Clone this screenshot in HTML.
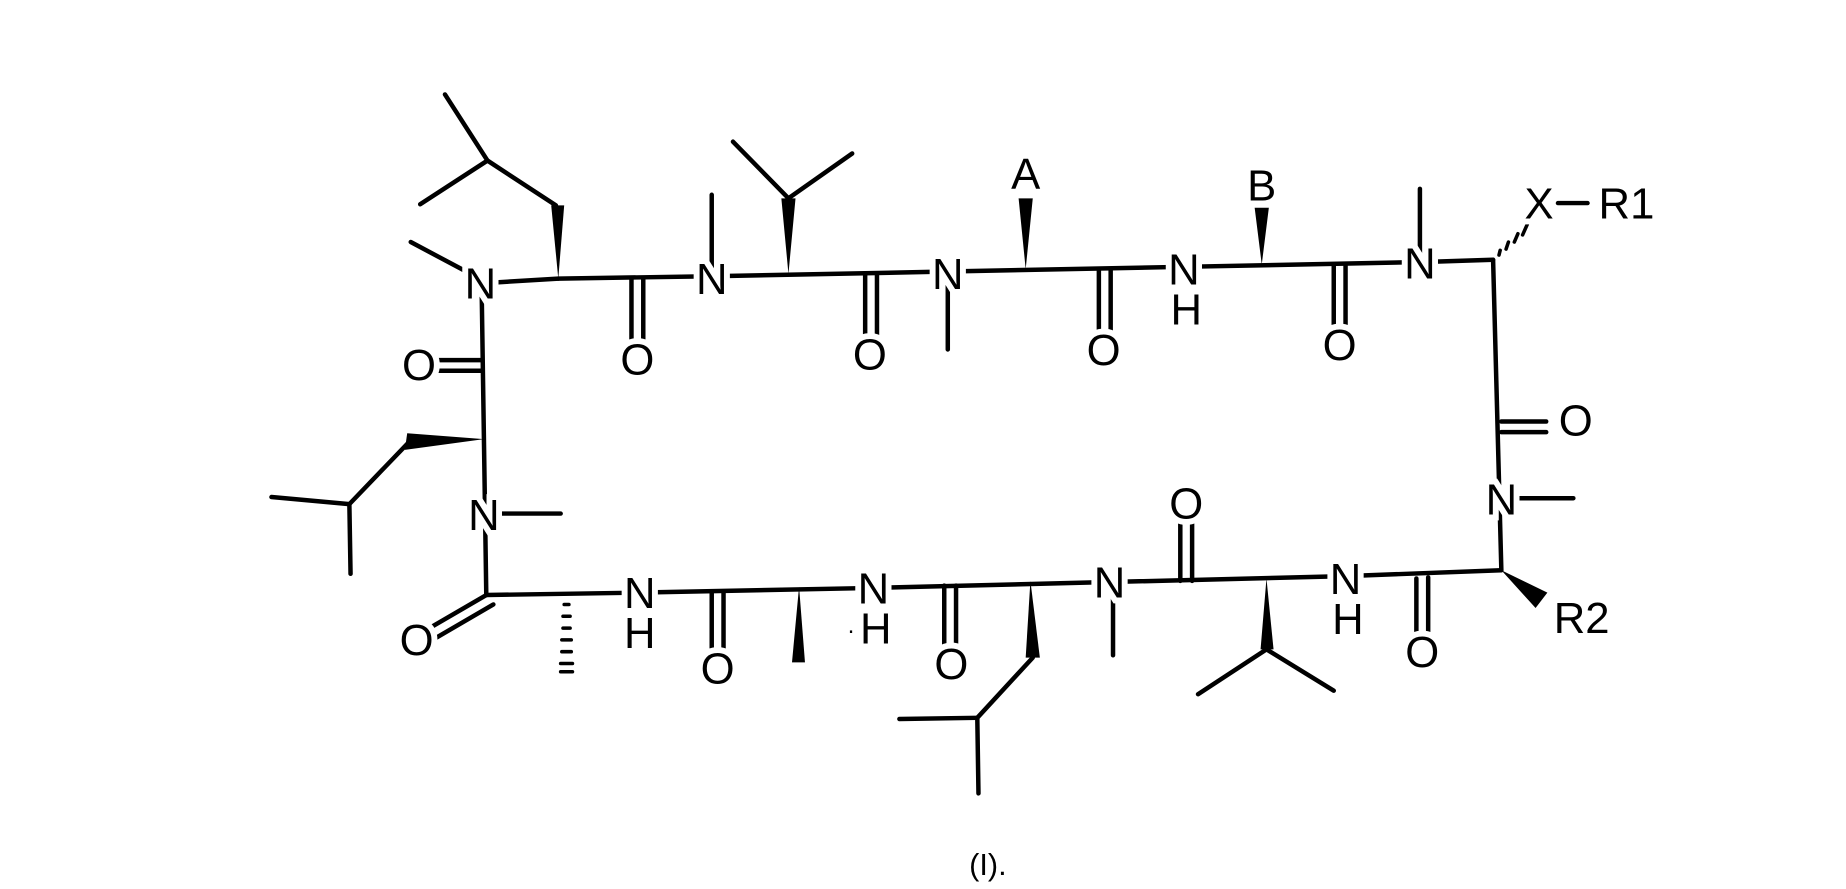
<!DOCTYPE html>
<html><head><meta charset="utf-8"><style>
html,body{margin:0;padding:0;background:#fff;}
svg{display:block}
text{font-family:"Liberation Sans",sans-serif;font-size:37px;fill:#000;text-anchor:middle;stroke:#fff;stroke-width:10px;paint-order:stroke;}
</style></head><body>
<svg width="1846" height="889" viewBox="0 0 1564 753" preserveAspectRatio="none" xmlns="http://www.w3.org/2000/svg">
<g stroke="#000" stroke-width="3.8" fill="none" stroke-linecap="round">
<line x1="348" y1="205" x2="395" y2="230"/>
<line x1="407" y1="240" x2="473" y2="236"/>
<line x1="413" y1="136" x2="377" y2="80"/>
<line x1="413" y1="136" x2="356" y2="173"/>
<line x1="413" y1="136" x2="471" y2="174"/>
<line x1="473" y1="236" x2="603" y2="234"/>
<line x1="535" y1="236" x2="535" y2="290"/><line x1="545" y1="236" x2="545" y2="290"/>
<line x1="603" y1="165" x2="603" y2="234"/>
<line x1="603" y1="234" x2="803" y2="230"/>
<line x1="668" y1="168" x2="621" y2="120"/>
<line x1="668" y1="168" x2="722" y2="130"/>
<line x1="733" y1="232" x2="733" y2="290"/><line x1="743" y1="232" x2="743" y2="290"/>
<line x1="803" y1="230" x2="803" y2="296"/>
<line x1="803" y1="230" x2="1003" y2="226"/>
<line x1="931" y1="228" x2="931" y2="286"/><line x1="941" y1="228" x2="941" y2="286"/>
<line x1="1003" y1="226" x2="1203" y2="222"/>
<line x1="1130" y1="224" x2="1130" y2="282"/><line x1="1140" y1="224" x2="1140" y2="282"/>
<line x1="1203" y1="160" x2="1203" y2="222"/>
<line x1="1203" y1="222" x2="1265" y2="220"/>
<line x1="1320" y1="172" x2="1345" y2="172"/>
<line x1="1265" y1="220" x2="1272" y2="483"/>
<line x1="1272" y1="357" x2="1310" y2="357"/><line x1="1272" y1="366" x2="1310" y2="366"/>
<line x1="1272" y1="422" x2="1333" y2="422"/>
<line x1="1272" y1="483" x2="1140" y2="488"/>
<line x1="1200" y1="490" x2="1200" y2="545"/><line x1="1210" y1="489" x2="1210" y2="545"/>
<line x1="1140" y1="488" x2="940" y2="493"/>
<line x1="1073" y1="550" x2="1015" y2="588"/>
<line x1="1073" y1="550" x2="1130" y2="585"/>
<line x1="1000" y1="492" x2="1000" y2="434"/><line x1="1010" y1="492" x2="1010" y2="434"/>
<line x1="943" y1="493" x2="943" y2="555"/>
<line x1="940" y1="493" x2="740" y2="498"/>
<line x1="875" y1="557" x2="828" y2="608"/>
<line x1="828" y1="608" x2="762" y2="609"/>
<line x1="828" y1="608" x2="829" y2="672"/>
<line x1="800" y1="496" x2="800" y2="553"/><line x1="810" y1="496" x2="810" y2="553"/>
<line x1="740" y1="498" x2="540" y2="502"/>
<line x1="603" y1="501" x2="603" y2="558"/><line x1="613" y1="501" x2="613" y2="558"/>
<line x1="540" y1="502" x2="412" y2="504"/>
<line x1="412" y1="504" x2="357" y2="536"/><line x1="418" y1="512" x2="363" y2="544"/>
<line x1="412" y1="504" x2="408" y2="240"/>
<line x1="408" y1="305" x2="370" y2="305"/><line x1="408" y1="314" x2="370" y2="314"/>
<line x1="410" y1="435" x2="475" y2="435"/>
<line x1="345" y1="376" x2="296" y2="427"/>
<line x1="296" y1="427" x2="230" y2="421"/>
<line x1="296" y1="427" x2="297" y2="486"/>
</g>
<g fill="#000">
<polygon points="473,236 467,174 478,174"/>
<polygon points="668,232 662,168 674,168"/>
<polygon points="869,228 863,168 875,168"/>
<polygon points="1069,224 1063,176 1075,176"/>
<polygon points="410,372 345,367 343,381"/>
<polygon points="1272,483 1301,515 1311,502"/>
<polygon points="1073,490 1068,550 1079,550"/>
<polygon points="873,492 869,557 881,557"/>
<polygon points="677,497 671,561 682,561"/>
</g>
<g stroke="#000" stroke-width="3" stroke-linecap="round">
<line x1="1270" y1="216" x2="1271" y2="212"/>
<line x1="1276" y1="211" x2="1278" y2="205"/>
<line x1="1283" y1="205" x2="1286" y2="198"/>
<line x1="1290" y1="199" x2="1294" y2="190"/>
<line x1="478" y1="512" x2="482" y2="512"/>
<line x1="477" y1="522" x2="483" y2="522"/>
<line x1="477" y1="532" x2="483" y2="532"/>
<line x1="476" y1="542" x2="484" y2="542"/>
<line x1="476" y1="552" x2="484" y2="552"/>
<line x1="475" y1="562" x2="485" y2="562"/>
<line x1="475" y1="569" x2="485" y2="569"/>
</g>
<text x="407" y="253">N</text>
<text x="603" y="249">N</text>
<text x="803" y="245">N</text>
<text x="1003" y="241">N</text><text x="1005" y="275">H</text>
<text x="1203" y="236">N</text>
<text x="540" y="317">O</text>
<text x="737" y="313">O</text>
<text x="935" y="309">O</text>
<text x="1135" y="305">O</text>
<text x="869" y="160">A</text>
<text x="1069" y="170">B</text>
<text x="1304" y="185">X</text>
<text x="1378" y="185">R1</text>
<text x="1335" y="369">O</text>
<text x="1272" y="436">N</text>
<text x="1340" y="536">R2</text>
<text x="1205" y="565">O</text>
<text x="1140" y="503">N</text><text x="1142" y="537">H</text>
<text x="1005" y="439">O</text>
<text x="940" y="506">N</text>
<text x="806" y="575">O</text>
<text x="740" y="511">N</text><text x="742" y="545">H</text>
<text x="721" y="536" style="font-size:20px">.</text>
<text x="608" y="579">O</text>
<text x="542" y="515">N</text><text x="542" y="549">H</text>
<text x="353" y="555">O</text>
<text x="410" y="449">N</text>
<text x="355" y="322">O</text>
<text x="837" y="741" style="font-size:26px">(I).</text>
</svg>
</body></html>
